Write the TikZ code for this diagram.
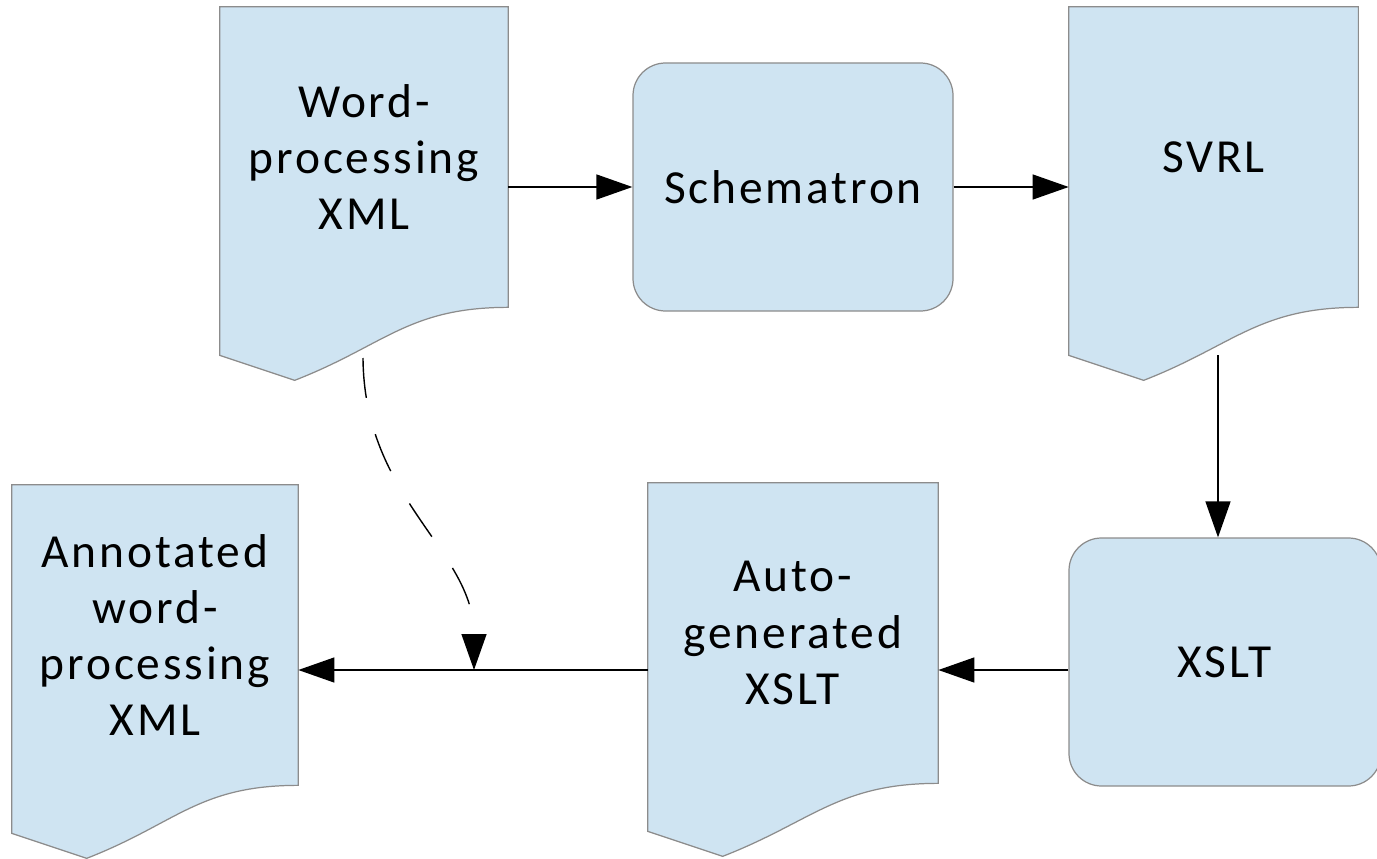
\documentclass[tikz,border=0pt]{standalone}
\usepackage{fontspec}
\setmainfont{Carlito}[LetterSpace=6]
\usepackage{tikz}
\usetikzlibrary{positioning,calc,backgrounds,arrows.meta}

\definecolor{docblue}{RGB}{207,228,242}
\definecolor{docgray}{RGB}{140,140,140}

\tikzset{
  docline/.style={draw=docgray, fill=docblue, line width=0.7pt},
  doc/.style={rectangle, minimum width=5.76cm, minimum height=6cm, align=center,
    font=\fontsize{27}{32}\selectfont},
  proc/.style={rectangle, rounded corners=0.65cm, draw=docgray, fill=docblue, line width=0.7pt,
    minimum width=6.4cm, minimum height=4.96cm, align=center, font=\fontsize{27}{32}\selectfont},
  conn/.style={draw, line width=0.8pt, -{Triangle[length=0.72cm,width=0.5cm]}}
}

% outline of a document shape, wavy bottom, behind the node text
\newcommand{\docwave}[1]{%
  \begin{scope}[on background layer]
    \draw[docline] (#1.south east) -- (#1.north east) -- (#1.north west)
      -- ($(#1.south west)+(0,-0.96)$) -- ($(#1.south west)+(1.5,-1.46)$)
      .. controls +(1.8,0.7) and +(-2,0) .. (#1.south east) -- cycle;
  \end{scope}}

\begin{document}
\begin{tikzpicture}
  \useasboundingbox (0,0) rectangle (27.54,17.16);

  % Draw the top row
  \node[doc] (word) at (7.28,14.02) {Word-\\processing\\XML};
  \node[proc] (schem) at (15.86,13.42) {Schematron};
  \node[doc, minimum width=5.78cm] (svrl) at (24.27,14.02) {SVRL};
  \docwave{word}
  \docwave{svrl}

  % Draw the bottom row
  \node[doc, minimum width=5.72cm] (annot) at (3.1,4.46) {Annotated\\word-\\processing\\XML};
  \node[doc, minimum width=5.8cm] (auto) at (15.86,4.5) {Auto-\\generated\\XSLT};
  \node[proc, minimum width=6.24cm] (xslt) at (24.5,3.92) {XSLT};
  \docwave{annot}
  \docwave{auto}

  % Draw the connectors
  \coordinate (wordout) at (7.26,10.0);
  \coordinate (svrlout) at (24.36,10.06);
  \coordinate (join) at (9.48,3.76);
  \draw[conn] (word.east |- schem.west) -- (schem.west);
  \draw[conn] (schem.east) -- (schem.east -| svrl.west);
  \draw[conn] (svrlout) -- (svrlout |- xslt.north);
  \draw[conn] (xslt.west |- join) -- (auto.east |- join);
  \draw[conn] (auto.west |- join) -- (annot.east |- join);
  \draw[conn, dash pattern=on 0.8cm off 0.75cm] (wordout) .. controls (7.28,7.16) and (9.48,6.16) .. (join);
\end{tikzpicture}
\end{document}
